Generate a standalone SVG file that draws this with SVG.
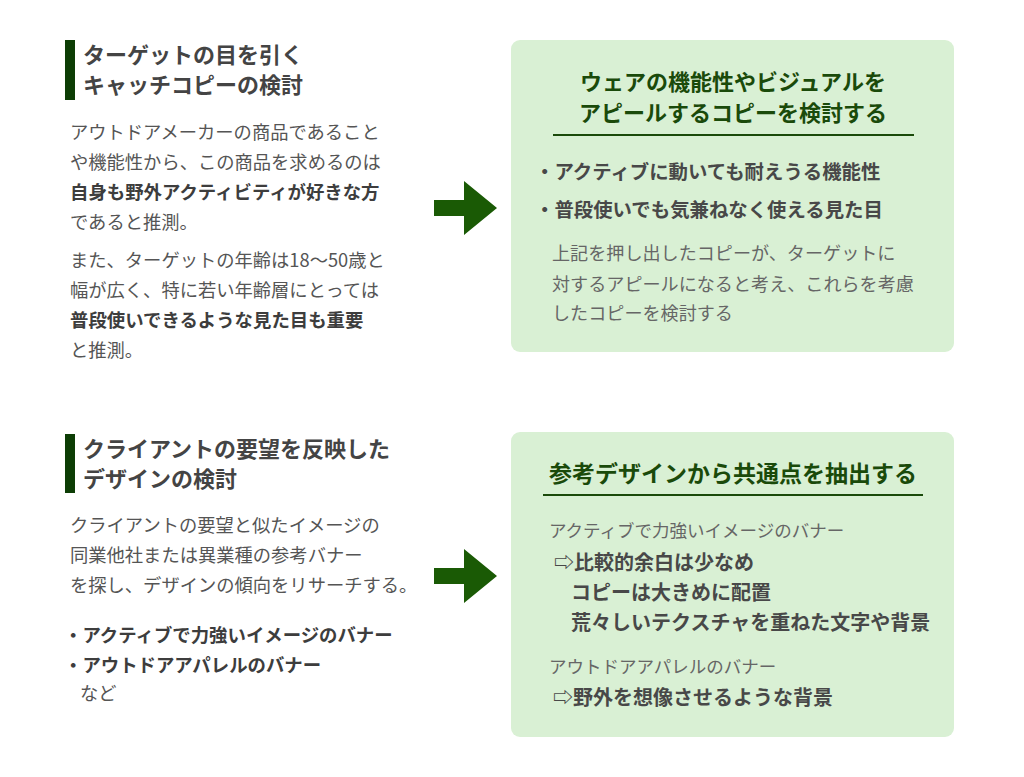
<svg xmlns="http://www.w3.org/2000/svg" width="1024" height="777" viewBox="0 0 1024 777">
<style>
text{font-family:"Noto Sans CJK JP","Noto Sans",sans-serif}
.h{font-size:22px;font-weight:bold;fill:#444}
.b{font-size:18.3px;fill:#555}
.bb{font-size:18.4px;font-weight:bold;fill:#3d3d3d}
.bar{fill:#0d3d05}
.box{fill:#d9f0d4}
.bt{font-size:22px;font-weight:bold;fill:#1a4a0a}
.ul{stroke:#1a4a0a;stroke-width:2}
.li{font-size:19.4px;font-weight:bold;fill:#484848}
.p{font-size:18.1px;fill:#666}
.s{font-size:17.5px;fill:#666}
.arrow{fill:#1a5a05}
</style>
<rect width="1024" height="777" fill="#fff"/>
<g id="left1">
<rect class="bar" x="65" y="40" width="10" height="60"/>
<text class="h" x="83" y="63">ターゲットの目を引く</text>
<text class="h" x="83" y="93">キャッチコピーの検討</text>
<text class="b" x="70" y="139">アウトドアメーカーの商品であること</text>
<text class="b" x="70" y="169">や機能性から、この商品を求めるのは</text>
<text class="bb" x="70" y="199">自身も野外アクティビティが好きな方</text>
<text class="b" x="70" y="229">であると推測。</text>
<text class="b" x="70" y="267">また、ターゲットの年齢は18〜50歳と</text>
<text class="b" x="70" y="297">幅が広く、特に若い年齢層にとっては</text>
<text class="bb" x="70" y="327">普段使いできるような見た目も重要</text>
<text class="b" x="70" y="357">と推測。</text>
</g>
<g id="box1">
<rect class="box" x="511" y="40" width="443" height="312" rx="9"/>
<text class="bt" x="733" y="90" text-anchor="middle">ウェアの機能性やビジュアルを</text>
<text class="bt" x="733" y="121" text-anchor="middle">アピールするコピーを検討する</text>
<line class="ul" x1="553" y1="135" x2="914" y2="135"/>
<text class="li" x="535" y="179">・アクティブに動いても耐えうる機能性</text>
<text class="li" x="535" y="217">・普段使いでも気兼ねなく使える見た目</text>
<text class="p" x="552" y="260">上記を押し出したコピーが、ターゲットに</text>
<text class="p" x="552" y="291">対するアピールになると考え、これらを考慮</text>
<text class="p" x="552" y="320">したコピーを検討する</text>
</g>
<g id="left2">
<rect class="bar" x="65" y="434" width="10" height="59"/>
<text class="h" x="83" y="457">クライアントの要望を反映した</text>
<text class="h" x="83" y="487">デザインの検討</text>
<text class="b" x="70" y="532">クライアントの要望と似たイメージの</text>
<text class="b" x="70" y="562">同業他社または異業種の参考バナー</text>
<text class="b" x="70" y="592">を探し、デザインの傾向をリサーチする。</text>
<text class="bb" x="64" y="642">・アクティブで力強いイメージのバナー</text>
<text class="bb" x="64" y="672">・アウトドアアパレルのバナー</text>
<text class="b" x="80" y="700">など</text>
</g>
<g id="box2">
<rect class="box" x="511" y="432" width="443" height="305" rx="9"/>
<text class="bt" x="733" y="482" text-anchor="middle" style="font-size:23px">参考デザインから共通点を抽出する</text>
<line class="ul" x1="543" y1="495" x2="923" y2="495"/>
<text class="s" x="549" y="537">アクティブで力強いイメージのバナー</text>
<text class="li" x="554" y="570" style="font-size:20px">⇨比較的余白は少なめ</text>
<text class="li" x="571" y="600" style="font-size:20px">コピーは大きめに配置</text>
<text class="li" x="571" y="630" style="font-size:20px">荒々しいテクスチャを重ねた文字や背景</text>
<text class="s" x="549" y="673">アウトドアアパレルのバナー</text>
<text class="li" x="553" y="705" style="font-size:20px">⇨野外を想像させるような背景</text>
</g>
<g id="connectors">
<polygon class="arrow" points="434,200 464,200 464,181 497,208 464,235 464,216 434,216"/>
<polygon class="arrow" points="434,568 464,568 464,549 497,576 464,603 464,584 434,584"/>
</g>
</svg>
